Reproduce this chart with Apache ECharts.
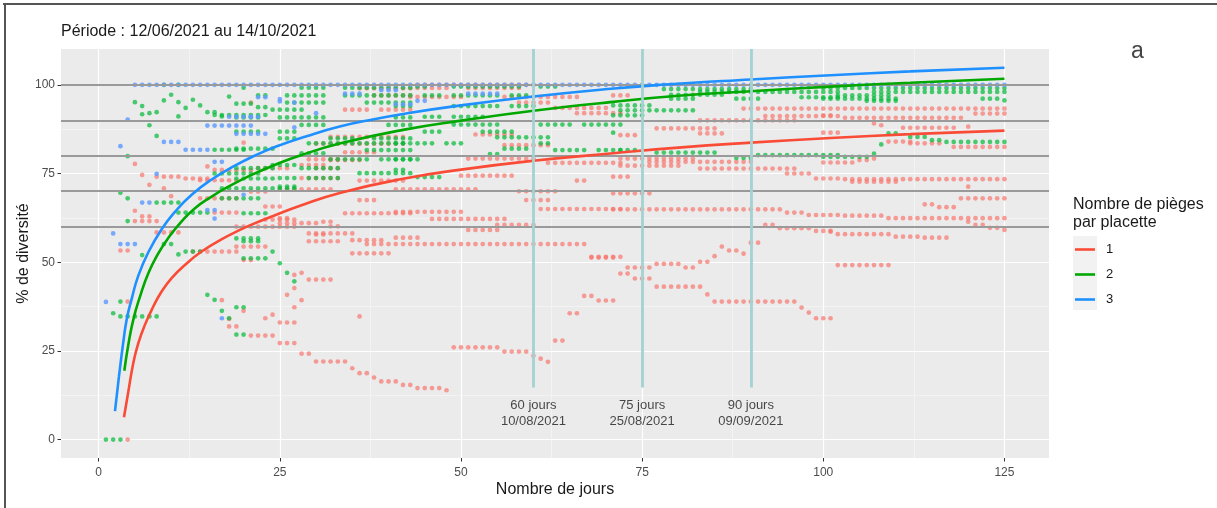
<!DOCTYPE html>
<html>
<head>
<meta charset="utf-8">
<script src="https://cdn.jsdelivr.net/npm/echarts@6/dist/echarts.min.js"></script>
<style>
html,body{margin:0;padding:0;background:#fff;}
#chart{width:1217px;height:508px;}
</style>
</head>
<body>
<div id="chart"></div>
<script>
// ---------- DATA ----------
const titleText = 'Période : 12/06/2021 au 14/10/2021';
const xTitle = 'Nombre de jours';
const yTitle = '% de diversité';
const legendTitle = 'Nombre de pièges\npar placette';
const panelTag = 'a';
const groups = ['1', '2', '3'];
const xTicks = [0, 25, 50, 75, 100, 125];
const yTicks = [0, 25, 50, 75, 100];
const refLevels = [60, 70, 80, 90, 100];
const markDays = [60, 75, 90];
const markLabels = ['60 jours\n10/08/2021', '75 jours\n25/08/2021', '90 jours\n09/09/2021'];

// fitted curves [day, %]
const curve1 = [[3.49,6.3],[4.09,13.5],[4.78,21.6],[5.47,27.2],[6.39,32.4],[7.54,37.5],[8.69,41.75],[10.07,45.5],[11.9,49.2],[14.2,53],[17,56.5],[19.7,59.3],[21.1,60.6],[23.9,62.9],[27.8,65.9],[33.4,69.6],[42,73.5],[50,76.1],[60,78.6],[71,80.7],[80,82.3],[90,83.7],[101,85],[112,86.1],[125,87.1]];
const curve2 = [[3.54,19.4],[4.09,26.7],[4.78,33.8],[5.7,40.3],[6.85,46.9],[8.23,52.5],[9.6,56.8],[11.45,61.5],[13.29,65.2],[15.59,68.5],[17.9,71.3],[21.1,74.6],[24.3,77.4],[27.8,80.1],[33.4,83.5],[42,87.3],[50,89.9],[60,92.7],[71,95.2],[80,96.9],[90,98.2],[101,99.5],[112,100.6],[125,101.7]];
const curve3 = [[2.25,8],[2.8,17.8],[3.4,27.5],[3.86,33.8],[4.55,39.6],[5.47,46.2],[6.85,52.8],[8.69,59.3],[10.53,64.2],[12.83,69],[15.59,73.3],[18.8,77.2],[21.5,80],[24.5,82.6],[28.8,85.6],[33.4,88.3],[38,90.3],[42,91.8],[50,94.2],[60,96.7],[70.7,98.9],[77.6,100],[90,101.5],[101,102.7],[112,103.8],[125,104.8]];

// observed points, as runs of consecutive days at one value: [%, firstDay, lastDay]
const runs1 = [
 [0,4,4],[38.9,4,4],[53.3,3,4],[77.7,5,5],[64.5,5,5],[61.6,5,8],[62.9,6,7],[74.6,6,6],[71.8,7,7],[74.1,8,11],[70.8,9,9],[68.6,10,10],[73.6,12,15],[77,15,15],[76,16,17],[58.4,8,11],[53,13,19],
 [75.9,18,21],[73.1,14,19],[68,14,19],[64,16,19],[60,19,27],[62,23,27],[54.4,19,23],[50.6,20,21],
 [39.3,17,17],[31.9,18,19],[34,18,18],[36.3,20,20],[29.3,21,24],[34.2,23,23],[35.2,24,24],[33,25,27],[40.8,26,26],[42.7,27,27],[37.3,27,27],[39.3,28,28],[46.4,27,27],[47,28,28],[45.1,29,32],
 [27.2,25,27],[24.2,28,29],[22,30,34],[20.1,35,35],[18.7,36,37],[17.5,38,38],[16.4,39,41],[34.7,36,36],[15.4,42,43],[14.5,44,47],[13.9,48,48],
 [83.7,20,20],[95,21,21],[97,38,43],[93,34,37],[93,39,43],[85.3,32,42],[83.4,30,42],[81,34,38],[78.8,32,36],[79,29,33],[77.4,28,31],[76.5,22,26],[76.5,30,33],[73.7,28,33],[73,36,42],[70.5,25,32],[69.9,21,23],[67.5,36,38],[65.7,23,25],[63.8,34,43],[62.4,25,26],[61,25,30],[61.4,31,32],[60.1,32,33],[58.1,29,35],[57.8,30,31],[55.9,29,33],[56.2,35,39],[52.5,35,40],[99,36,43],
 [100,44,60],[99.1,44,48],[99.1,51,58],[96.6,43,50],[96.6,56,66],[95,58,62],[93.5,63,70],[92,66,72],[86,52,57],[83,56,62],[79.2,51,60],[78,62,72],[74.4,50,57],[73,66,67],[70.5,41,52],[70,58,63],[67.5,59,62],[65,61,72],[64.2,41,50],[62.2,46,56],[60.5,55,60],[59.1,51,55],[56.9,41,44],[55.1,37,67],[51.5,68,72],
 [26,49,55],[24.8,56,59],[23.6,60,60],[22.8,61,61],[21.9,62,62],[27.9,63,64],[35.6,65,66],[40.5,67,68],[39.2,69,71],[51.3,68,71],[46.8,72,73],[48.5,73,76],[45.4,74,76],[49.5,77,80],[48.5,81,82],[50.1,83,84],[51.7,85,85],[54.4,86,86],[53.3,87,88],[52.4,89,89],[55.5,90,91],
 [43.1,77,83],[40.9,84,84],[38.9,85,96],[37.2,97,97],[35.8,98,98],[34.2,99,101],[49.2,102,109],
 [97,71,73],[93.3,89,102],[91.2,92,102],[90,83,96],[87.7,77,85],[86.3,83,86],[85.8,72,74],[79.2,72,82],[78.3,76,90],[77.2,72,80],[76.4,83,96],[75,95,98],[73.6,99,102],[74.1,71,73],[69.4,71,76],[64.9,71,94],[64,95,97],[63.3,98,102],[60.5,92,93],[59.6,94,98],[58.8,99,101],
 [93.3,103,125],[91.9,121,125],[91.4,100,101],[90.7,103,119],[89.1,107,107],[88.6,108,108],[88.2,120,120],[87.9,111,118],[86.5,100,102],[84,109,112],[83.5,112,116],[82.5,118,125],[78.1,100,104],[78.8,105,106],[79.2,107,107],[73.4,103,125],[72.7,104,110],[71.3,120,120],[68,119,125],[66.3,114,115],[65.5,116,118],[63.1,103,108],[62.4,109,125],[61.4,120,120],[60.5,121,122],[59.7,123,124],[59.1,125,125],[58.6,101,101],[57.9,102,109],[57.2,110,113],[56.9,114,117]
];
const runs2 = [
 [0,1,3],[35.6,2,2],[34.7,3,8],[38.9,3,3],[79.9,4,4],[69.6,3,3],[68,4,4],[61.6,4,4],
 [95.1,5,5],[94,6,6],[91.7,6,6],[92,7,7],[92.3,8,8],[88.6,7,7],[85.6,8,8],[95.6,9,9],[97.2,10,10],[95.1,11,11],[91.1,11,11],[93.5,12,12],[95.8,13,13],[94.2,14,14],[92.3,15,16],[91.1,17,17],[96.7,18,18],[94.7,19,21],[97,22,23],[93.7,22,23],[100,9,9],[100,11,11],
 [66.8,8,11],[64,11,15],[81.7,16,20],[75,16,22],[70.8,17,27],[68,17,22],[56.7,19,22],[55.9,20,22],[51.1,20,23],[55.1,9,10],[52.2,11,11],[53,12,14],[52,6,6],[53,24,24],[49.7,25,25],[47,26,26],[44.6,27,27],
 [40.8,15,15],[39.4,16,16],[36.3,17,17],[34.2,18,18],[37.3,19,20],[29.6,19,20],
 [91.5,16,23],[82,19,24],[76.5,19,24],[73.6,19,24],
 [99.2,20,20],[99.2,28,31],[99.2,34,43],[97,26,31],[97,34,43],[95,26,31],[95,37,43],[93,24,28],[90.8,19,22],[90.8,25,31],[90.8,41,43],[88.7,28,31],[88.7,40,43],[86.8,19,22],[86.8,25,27],[84.9,25,27],[84.9,32,35],[84.9,38,43],[83.5,29,43],[81.6,37,43],[80.7,28,31],[79,32,37],[79,39,43],[77.4,24,27],[76.5,28,33],[75.1,36,43],[73.7,25,27],[73.7,29,33],[71.3,25,27],[63.8,20,23],
 [99.5,44,45],[99.5,49,58],[99.5,61,63],[97,45,47],[97,49,55],[97,57,59],[94,41,43],[94,49,55],[94,57,60],[91,45,47],[91,49,53],[88.8,49,55],[88.8,61,65],[88.8,67,72],[86.8,45,47],[86.8,53,57],[85.2,55,62],[83.5,41,42],[83.5,44,46],[83.5,48,50],[83.5,61,62],[82,56,59],[81.6,63,67],[81.6,69,72],[80.5,54,55],[79,41,44],[76,41,42],[74,44,47],
 [98.8,78,90],[97.2,79,86],[98,83,102],[96.1,79,82],[96.1,88,91],[96.5,97,102],[94.2,71,76],[92.8,72,82],[91.4,71,75],[86.5,71,71],[81.6,72,74],[80.9,77,85],[79.4,88,90],[80.2,91,102],
 [99.1,100,125],[98,107,125],[97,102,109],[96.1,100,110],[96.1,122,124],[95.6,125,125],[95.5,106,110],[86.3,109,110],[85.3,112,114],[84.4,115,116],[83.9,117,125],[83.2,108,108],[80.6,107,107],[79.7,100,106]
];
const runs3 = [
 [100,5,125],[90.2,4,4],[82.7,3,3],[58.1,2,2],[55.1,3,5],[38.8,1,1],
 [83.9,9,11],[81.7,12,15],[88.5,15,21],[86.2,19,23],[91,18,22],[96.5,22,23],[95.3,25,25],[78.3,16,17],[74.9,8,8],[66.8,6,7],[64.7,15,16],[62.3,16,16],[34.2,17,17],
 [96,25,25],[95,27,27],[92,30,30],[91,21,21],[88,27,27],[69,20,20],[97.5,34,36],[98.5,39,41],[94.5,41,43],[95.5,44,45],[97.5,51,55]
];

// ---------- BUILD ----------
function expand(runs) {
  const out = [];
  runs.forEach(function (r) { for (let d = r[1]; d <= r[2]; d++) out.push([d, r[0]]); });
  return out;
}
const ptColors = ['#F8766D', '#00BA38', '#619CFF'];
const lineColors = ['#FA4B36', '#00A800', '#1E90FF'];
const FONT = '"Liberation Sans", Arial, sans-serif';
const X_MIN = -5.2, X_MAX = 131.15, Y_MIN = -5.2, Y_MAX = 110.1;

const minorX = xTicks.slice(1).map(function (v, i) { return (v + xTicks[i]) / 2; });
const minorY = yTicks.slice(1).map(function (v, i) { return (v + yTicks[i]) / 2; });

const gridLines = [].concat(
  xTicks.map(function (v) { return { xAxis: v, lineStyle: { color: '#FFFFFF', width: 1.2, type: 'solid' } }; }),
  yTicks.map(function (v) { return { yAxis: v, lineStyle: { color: '#FFFFFF', width: 1.2, type: 'solid' } }; }),
  minorX.map(function (v) { return { xAxis: v, lineStyle: { color: '#F8F8F8', width: 0.6, type: 'solid' } }; }),
  minorY.map(function (v) { return { yAxis: v, lineStyle: { color: '#F8F8F8', width: 0.6, type: 'solid' } }; })
);

const chart = echarts.init(document.getElementById('chart'), null, { renderer: 'canvas' });

const series = [];
series.push({
  type: 'line', name: 'grid', data: [], silent: true, z: 1,
  markLine: { z: 1, silent: true, symbol: ['none', 'none'], label: { show: false }, animation: false,
    lineStyle: { type: 'solid' }, data: gridLines }
});
[runs1, runs2, runs3].forEach(function (runs, i) {
  series.push({
    type: 'scatter', name: 'pts' + groups[i], data: expand(runs), symbol: 'circle', symbolSize: 4.7, z: 2 + i * 0.1,
    silent: true, itemStyle: { color: ptColors[i], opacity: i === 2 ? 0.85 : 0.7 }
  });
});
series.push({
  type: 'line', name: 'ref', data: [], silent: true, z: 3,
  markLine: { z: 3, silent: true, symbol: ['none', 'none'], label: { show: false }, animation: false,
    lineStyle: { color: '#9A9A9A', width: 1.8, type: 'solid' },
    data: refLevels.map(function (v) { return { yAxis: v }; }) }
});
[curve1, curve2, curve3].forEach(function (c, i) {
  series.push({
    type: 'line', name: groups[i], data: c, smooth: 0.5, symbol: 'none', showSymbol: false, z: 4,
    color: lineColors[i], lineStyle: { color: lineColors[i], width: 2.6 }, itemStyle: { color: lineColors[i] }
  });
});
series.push({
  type: 'line', name: 'days', data: [], silent: true, z: 5,
  markLine: { z: 5, silent: true, symbol: ['none', 'none'], label: { show: false }, animation: false,
    lineStyle: { color: '#A4D2D2', width: 2.8, type: 'solid' },
    data: markDays.map(function (d) { return [{ coord: [d, 14.7] }, { coord: [d, Y_MAX] }]; }) }
});
series.push({
  type: 'scatter', name: 'daylabels', symbolSize: 0, silent: true, z: 6,
  data: markDays.map(function (d, i) { return { value: [d, 7.3], name: markLabels[i] }; }),
  label: { show: true, position: 'inside', formatter: function (p) { return p.name; },
    color: '#1A1A1A', fontSize: 13, lineHeight: 16.5, fontFamily: FONT, align: 'center' }
});

const option = {
  animation: false,
  backgroundColor: '#FFFFFF',
  title: { text: titleText, left: 61, top: 24, padding: 0,
    textStyle: { fontSize: 16, fontWeight: 'normal', color: '#1A1A1A', fontFamily: FONT } },
  grid: { left: 61, top: 49, width: 988, height: 409, show: true, backgroundColor: '#EBEBEB', borderWidth: 0, containLabel: false },
  legend: {
    data: groups.map(function (g) { return { name: g, icon: 'rect' }; }),
    orient: 'vertical', left: 1075, top: 242, padding: 0,
    itemWidth: 20, itemHeight: 2.6, itemGap: 10,
    textStyle: { fontSize: 13, color: '#1A1A1A', fontFamily: FONT, padding: [0, 0, 0, 6], lineHeight: 15 },
    selectedMode: false
  },
  xAxis: {
    type: 'value', min: X_MIN, max: X_MAX,
    name: xTitle, nameLocation: 'middle', nameGap: 24, nameMoveOverlap: false,
    nameTextStyle: { fontSize: 16, color: '#1A1A1A', fontFamily: FONT },
    axisLine: { show: false, onZero: false },
    axisTick: { show: true, length: 3.5, customValues: xTicks, lineStyle: { color: '#333333', width: 1 } },
    axisLabel: { customValues: xTicks, margin: 9, fontSize: 12, color: '#4D4D4D', fontFamily: FONT },
    splitLine: { show: false }, minorSplitLine: { show: false }
  },
  yAxis: {
    type: 'value', min: Y_MIN, max: Y_MAX,
    name: yTitle, nameLocation: 'middle', nameGap: 29, nameRotate: 90, nameMoveOverlap: false,
    nameTextStyle: { fontSize: 16, color: '#1A1A1A', fontFamily: FONT },
    axisLine: { show: false, onZero: false },
    axisTick: { show: true, length: 3.5, customValues: yTicks, lineStyle: { color: '#333333', width: 1 } },
    axisLabel: { customValues: yTicks, margin: 6, fontSize: 12, color: '#4D4D4D', fontFamily: FONT },
    splitLine: { show: false }, minorSplitLine: { show: false }
  },
  graphic: [
    { type: 'line', shape: { x1: 3, y1: 4, x2: 1217, y2: 4 }, style: { stroke: '#555555', lineWidth: 2 }, silent: true },
    { type: 'line', shape: { x1: 5, y1: 3, x2: 5, y2: 508 }, style: { stroke: '#555555', lineWidth: 2 }, silent: true },
    { type: 'text', left: 1131, top: 40, silent: true,
      style: { text: panelTag, fontSize: 23, fill: '#444444', fontFamily: FONT } },
    { type: 'text', left: 1073, top: 196, silent: true,
      style: { text: legendTitle, fontSize: 16, lineHeight: 18, fill: '#1A1A1A', fontFamily: FONT } },
    { type: 'rect', shape: { x: 1073, y: 236, width: 24, height: 74 }, style: { fill: '#F2F2F2' }, z: -1, silent: true }
  ],
  series: series
};
chart.setOption(option);
</script>
</body>
</html>
